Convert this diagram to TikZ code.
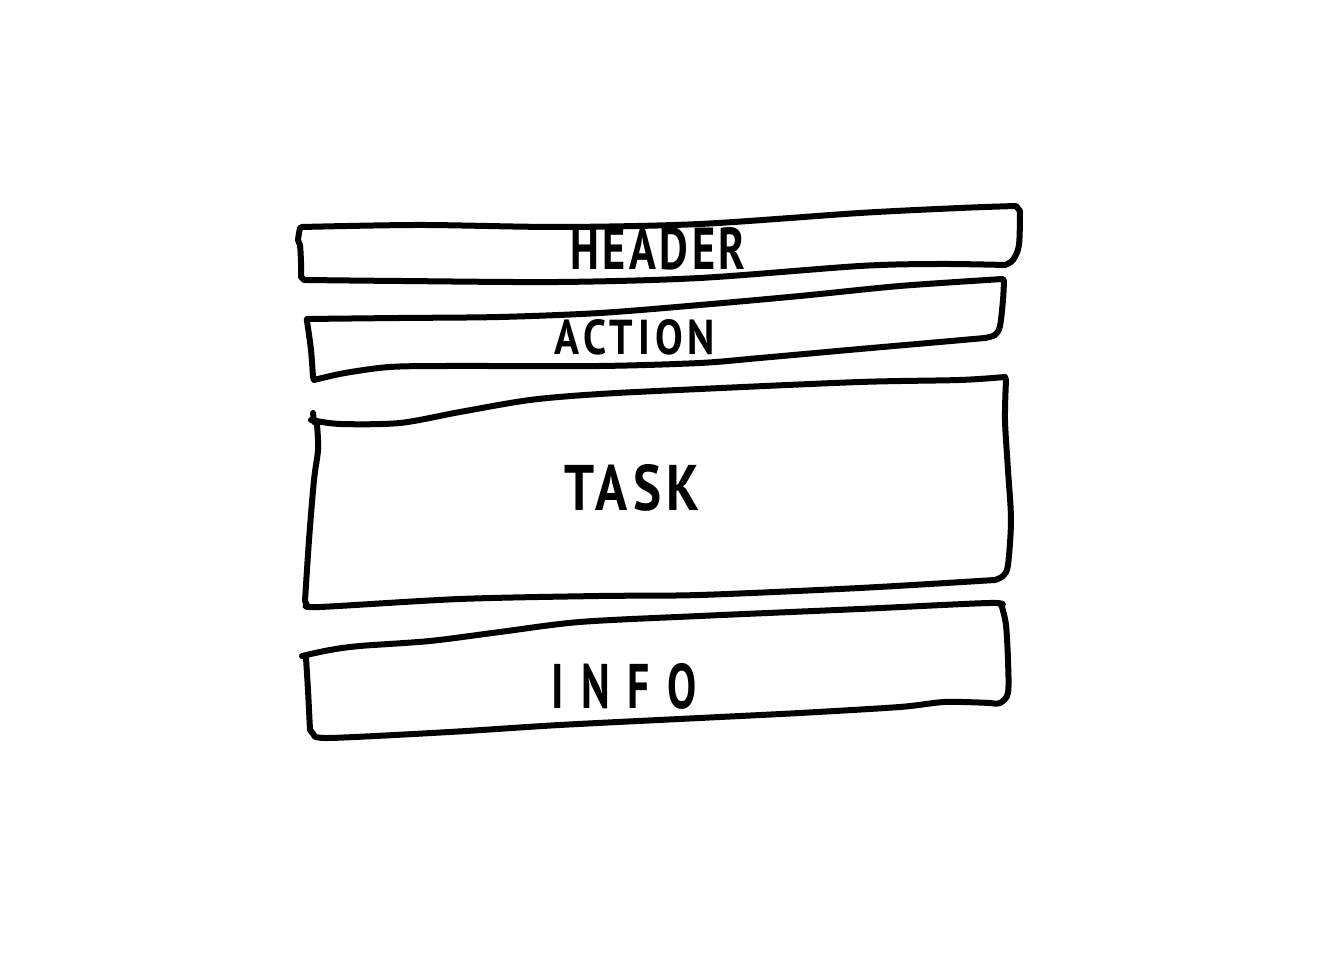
\documentclass[tikz,border=0pt]{standalone}
\usepackage{fontspec}
\setmainfont{PT Sans}
\usepackage{graphicx}
\begin{document}
\begin{tikzpicture}[x=0.01cm,y=-0.01cm,
  sketch/.style={line width=0.06cm,line join=round,line cap=round,draw=black},
  label/.style={inner sep=0pt,font=\bfseries}]
\useasboundingbox[fill=white] (0,0) rectangle (1320,977);

% header strip
\draw[sketch] plot[smooth,tension=0.5] coordinates {(302,227) (420,225) (560,227) (700,224) (860,213) (960,208) (1016,206)}
  -- plot[smooth,tension=0.5] coordinates {(1020,211) (1019,245) (1013,260) (1005,265)}
  -- plot[smooth,tension=0.5] coordinates {(1005,265) (940,264) (860,266) (700,278) (560,282) (400,281) (304,280)}
  -- plot[smooth,tension=0.5] coordinates {(301,277) (301,262) (300,245) (298,240) (300,228)} -- cycle;

% action strip
\draw[sketch] plot[smooth,tension=0.5] coordinates {(307,319) (400,318) (500,317) (600,313) (700,305) (800,296) (900,286) (1003,279)}
  -- plot[smooth,tension=0.5] coordinates {(1004,281) (1003,300) (1000,326) (995,335) (985,338)}
  -- plot[smooth,tension=0.5] coordinates {(985,338) (940,342) (860,349) (760,358) (700,363) (600,366) (450,366) (390,367) (345,373) (314,380)}
  -- plot[smooth,tension=0.5] coordinates {(313,377) (311,350) (307,321)} -- cycle;

% task block
\draw[sketch] (313,413) -- (314,422);
\draw[sketch] plot[smooth,tension=0.5] coordinates {(311,420) (340,424) (400,423) (460,412) (530,400) (600,394) (700,389) (860,382) (960,380) (1005,377)}
  -- plot[smooth,tension=0.5] coordinates {(1006,380) (1005,420) (1008,470) (1011,520) (1008,565) (1003,576) (995,580)}
  -- plot[smooth,tension=0.5] coordinates {(995,580) (860,588) (700,595) (600,596) (460,599) (320,607) (307,605)}
  -- plot[smooth,tension=0.5] coordinates {(305,601) (309,540) (314,480) (318,450) (317,425) (315,422)};

% info strip
\draw[sketch] plot[smooth,tension=0.5] coordinates {(302,656) (330,650) (360,646) (430,641) (500,632) (580,622) (700,616) (860,609) (990,603) (1001,606)}
  -- plot[smooth,tension=0.5] coordinates {(1002,607) (1006,625) (1008,660) (1008,693) (1000,703) (990,703)}
  -- plot[smooth,tension=0.5] coordinates {(990,703) (945,702) (900,707) (800,713) (700,718) (560,725) (450,732) (330,738) (314,735)}
  -- plot[smooth,tension=0.5] coordinates {(310,730) (308,690) (306,658)};

% labels
\node[label] (header) at (658,249) {\resizebox{1.75cm}{0.42cm}{\addfontfeatures{LetterSpace=8}HEADER}};
\node[label] (action) at (635,337) {\resizebox{1.60cm}{0.35cm}{\addfontfeatures{LetterSpace=12}ACTION}};
\node[label] (task) at (632,488) {\resizebox{1.35cm}{0.46cm}{\addfontfeatures{LetterSpace=10}TASK}};
\node[label] (info) at (624,686) {\resizebox{1.45cm}{0.45cm}{\addfontfeatures{LetterSpace=40}INFO}};
\end{tikzpicture}
\end{document}
